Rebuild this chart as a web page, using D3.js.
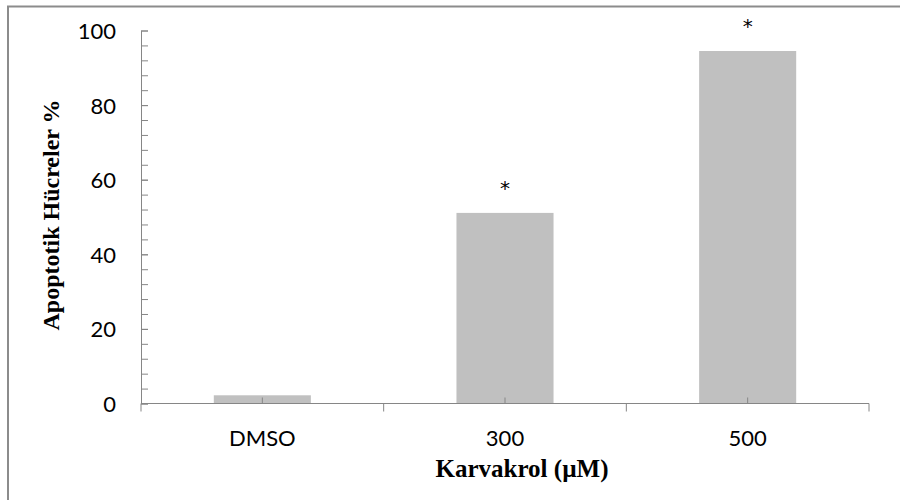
<!DOCTYPE html>
<html>
<head>
<meta charset="utf-8">
<script src="https://cdn.jsdelivr.net/npm/d3@7"></script>
<style>
  html, body { margin: 0; padding: 0; background: #fff; }
  svg { display: block; }
</style>
</head>
<body>
<div id="chart"></div>
<script>
;(function (window, document, undefined) {

  'use strict';

  // data
  var categories = ['DMSO', '300', '500'];
  var apoptotic = [2.2, 51.1, 94.5];
  var significant = [false, true, true];
  var yMajorTicks = [0, 20, 40, 60, 80, 100];
  var yMinorTicks = d3.range(0, 101, 4);

  var width = 900,
      height = 500;

  var plot = { left: 141, right: 869, top: 30.5, bottom: 403.5 };
  var axisColor = '#868686';
  var labelFont = 'Lato, "Open Sans", sans-serif';
  var titleFont = '"Liberation Serif", "DejaVu Serif", serif';

  var rows = categories.map(function (c, i) {
    return { key: c, value: apoptotic[i], star: significant[i] };
  });

  var svg = d3.select('#chart').append('svg')
              .attr('width', width)
              .attr('height', height);

  // frame of the figure (top and left only)
  svg.append('path')
    .attr('d', 'M8,500 V6.5 H900')
    .attr('fill', 'none')
    .attr('stroke', '#8c8c8c')
    .attr('stroke-width', 2);

  var x = d3.scaleBand()
            .domain(categories)
            .range([plot.left, plot.right])
            .paddingInner(0.6)
            .paddingOuter(0.3);

  var y = d3.scaleLinear()
            .domain([0, 100])
            .range([plot.bottom, plot.top]);

  var mid = function (d) { return x(d.key) + x.bandwidth() / 2; };

  // bars
  svg.append('g').selectAll('rect')
    .data(rows)
    .enter().append('rect')
      .attr('x', function (d) { return x(d.key); })
      .attr('y', function (d) { return y(d.value); })
      .attr('width', x.bandwidth())
      .attr('height', function (d) { return y(0) - y(d.value); })
      .attr('fill', '#c0c0c0');

  // y axis: minor ticks inside, major labels
  var yMinor = svg.append('g')
    .attr('transform', 'translate(' + plot.left + ',0)')
    .call(d3.axisLeft(y).tickValues(yMinorTicks).tickSize(-7).tickFormat(''));
  yMinor.select('.domain').remove();
  yMinor.selectAll('line').attr('stroke', axisColor);

  var yAxis = svg.append('g')
    .attr('transform', 'translate(' + plot.left + ',0)')
    .call(d3.axisLeft(y).tickValues(yMajorTicks).tickSize(-7).tickSizeOuter(0).tickPadding(25));
  yAxis.select('.domain').attr('stroke', axisColor);
  yAxis.selectAll('line').attr('stroke', axisColor);
  yAxis.selectAll('text')
    .attr('font-family', labelFont)
    .attr('font-size', 22)
    .attr('fill', '#000')
    .attr('dy', '0.36em');

  // x axis: boundary ticks below, centre ticks above
  var boundaries = [plot.left].concat(categories.map(function (c) {
    return x(c) + x.bandwidth() + x.step() * x.paddingInner() / 2;
  }));
  boundaries[boundaries.length - 1] = plot.right;

  var xg = svg.append('g').attr('transform', 'translate(0,' + plot.bottom + ')');
  xg.append('line')
    .attr('x1', plot.left).attr('x2', plot.right)
    .attr('stroke', axisColor);
  xg.selectAll('.bound')
    .data(boundaries)
    .enter().append('line')
      .attr('class', 'bound')
      .attr('x1', function (d) { return d; })
      .attr('x2', function (d) { return d; })
      .attr('y1', 0).attr('y2', 8)
      .attr('stroke', axisColor);
  xg.selectAll('.mid')
    .data(rows)
    .enter().append('line')
      .attr('class', 'mid')
      .attr('x1', mid)
      .attr('x2', mid)
      .attr('y1', 0).attr('y2', -6)
      .attr('stroke', axisColor);
  xg.selectAll('text')
    .data(rows)
    .enter().append('text')
      .attr('x', mid)
      .attr('y', 42)
      .attr('text-anchor', 'middle')
      .attr('font-family', labelFont)
      .attr('font-size', 22)
      .text(function (d) { return d.key; });

  // significance marks
  svg.append('g').selectAll('text')
    .data(rows.filter(function (d) { return d.star; }))
    .enter().append('text')
      .attr('x', mid)
      .attr('y', function (d) { return y(d.value) - 18; })
      .attr('text-anchor', 'middle')
      .attr('font-family', '"DejaVu Sans", sans-serif')
      .attr('font-size', 20)
      .text('*');

  // axis titles
  svg.append('text')
    .attr('x', 522)
    .attr('y', 477)
    .attr('text-anchor', 'middle')
    .attr('font-family', titleFont)
    .attr('font-weight', 'bold')
    .attr('font-size', 25)
    .text('Karvakrol (\u00b5M)');

  svg.append('text')
    .attr('transform', 'translate(59,215) rotate(-90)')
    .attr('text-anchor', 'middle')
    .attr('font-family', titleFont)
    .attr('font-weight', 'bold')
    .attr('font-size', 24)
    .text('Apoptotik H\u00fccreler %');

})(window, document);
</script>
</body>
</html>
